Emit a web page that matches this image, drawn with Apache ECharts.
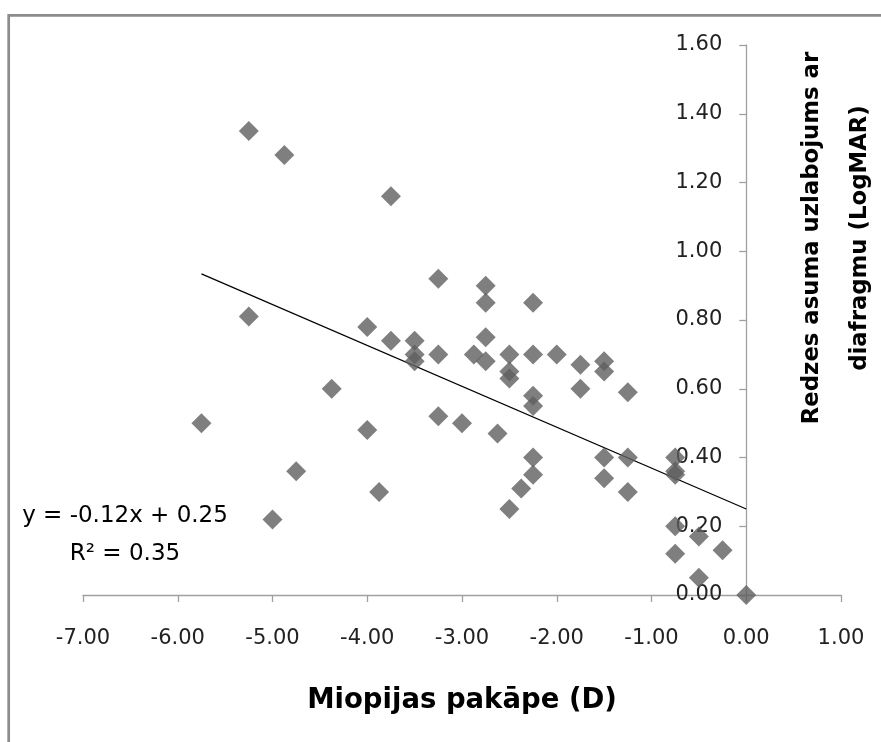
<!DOCTYPE html>
<html>
<head>
<meta charset="utf-8">
<script src="https://cdn.jsdelivr.net/npm/echarts@6/dist/echarts.min.js"></script>
<style>
html,body{margin:0;padding:0;background:#fff;}
#chart{width:881px;height:742px;}
</style>
</head>
<body>
<div id="chart"></div>
<script>
// Myopia degree (D)
const myopiaX = [-5.25, -4.875, -3.75, -5.75, -5.25, -5.0, -4.75, -4.375, -4.0, -4.0,
  -3.875, -3.75, -3.5, -3.5, -3.5, -3.25, -3.25, -3.25, -3.0, -2.875,
  -2.75, -2.75, -2.75, -2.75, -2.625, -2.5, -2.5, -2.5, -2.5, -2.375,
  -2.25, -2.25, -2.25, -2.25, -2.25, -2.25, -2.0, -1.75, -1.75, -1.5,
  -1.5, -1.5, -1.5, -1.25, -1.25, -1.25, -0.75, -0.75, -0.75, -0.75,
  -0.75, -0.5, -0.5, -0.25, 0.0];
// Visual acuity improvement with pinhole (LogMAR)
const improvementY = [1.35, 1.28, 1.16, 0.50, 0.81, 0.22, 0.36, 0.60, 0.78, 0.48,
  0.30, 0.74, 0.74, 0.70, 0.68, 0.92, 0.70, 0.52, 0.50, 0.70,
  0.90, 0.85, 0.75, 0.68, 0.47, 0.70, 0.65, 0.63, 0.25, 0.31,
  0.85, 0.70, 0.58, 0.55, 0.40, 0.35, 0.70, 0.67, 0.60, 0.68,
  0.65, 0.40, 0.34, 0.59, 0.40, 0.30, 0.40, 0.36, 0.35, 0.20,
  0.12, 0.17, 0.05, 0.13, 0.00];
// Linear trend line (Excel fit)
const trendSlope = -0.119;
const trendIntercept = 0.25;
const trendRangeX = [-5.75, 0.0];
const equationLines = ['y = -0.12x + 0.25', 'R² = 0.35'];
const xAxisTitle = 'Miopijas pakāpe (D)';
const yAxisTitleLines = ['Redzes asuma uzlabojums ar', 'diafragmu (LogMAR)'];

const points = myopiaX.map((x, i) => [x, improvementY[i]]);
const trendPts = trendRangeX.map(x => [x, trendSlope * x + trendIntercept]);

const GRID_LEFT = 83, GRID_RIGHT = 40, XMIN = -7, XMAX = 1;
const plotW = 881 - GRID_LEFT - GRID_RIGHT;
// place the y axis where x = 0 (crossing point, as in the original)
const yAxisOffset = -plotW * (0 - XMIN) / (XMAX - XMIN);

const chart = echarts.init(document.getElementById('chart'));
const FONT = 'DejaVu Sans';
chart.setOption({
  backgroundColor: '#fff',
  animation: false,
  grid: {left: GRID_LEFT, right: GRID_RIGHT, top: 45, bottom: 147},
  xAxis: {
    type: 'value', min: XMIN, max: XMAX, interval: 1,
    name: xAxisTitle, nameLocation: 'middle', nameGap: 92,
    nameTextStyle: {fontFamily: FONT, fontWeight: 'bold', fontSize: 27.5, color: '#000'},
    axisLine: {show: true, lineStyle: {color: '#a0a0a0', width: 1.3}},
    axisTick: {show: true, inside: false, length: 7, lineStyle: {color: '#a0a0a0', width: 1.3}},
    axisLabel: {fontFamily: FONT, fontSize: 21, color: '#222', margin: 33,
      formatter: v => v.toFixed(2)},
    splitLine: {show: false}
  },
  yAxis: {
    type: 'value', min: 0, max: 1.6, interval: 0.2,
    position: 'left', offset: yAxisOffset,
    axisLine: {show: true, onZero: false, lineStyle: {color: '#a0a0a0', width: 1.3}},
    axisTick: {show: true, inside: false, length: 7, lineStyle: {color: '#a0a0a0', width: 1.3}},
    axisLabel: {fontFamily: FONT, fontSize: 21, color: '#222', margin: 24,
      formatter: v => v.toFixed(2)},
    splitLine: {show: false}
  },
  graphic: [
    {type: 'rect', shape: {x: 8.7, y: 15.3, width: 1000, height: 1000},
      style: {fill: 'none', stroke: '#8c8c8c', lineWidth: 2.7}, z: -1},
    {type: 'text', x: 125, y: 535,
      style: {text: equationLines.join('\n'), fontFamily: FONT, fontSize: 23,
        lineHeight: 38, fill: '#000', align: 'center', verticalAlign: 'middle'}},
    {type: 'text', x: 836, y: 238, rotation: Math.PI / 2,
      style: {text: yAxisTitleLines.join('\n'), fontFamily: FONT, fontWeight: 'bold',
        fontSize: 22.8, lineHeight: 48, fill: '#000', align: 'center', verticalAlign: 'middle'}}
  ],
  series: [
    {type: 'scatter', data: points, symbol: 'diamond', symbolSize: 20,
      itemStyle: {color: '#5f5f5f'}, z: 3},
    {type: 'line', data: trendPts, symbol: 'none', showSymbol: false,
      lineStyle: {color: '#000', width: 1.2}, z: 2}
  ]
});
</script>
</body>
</html>
